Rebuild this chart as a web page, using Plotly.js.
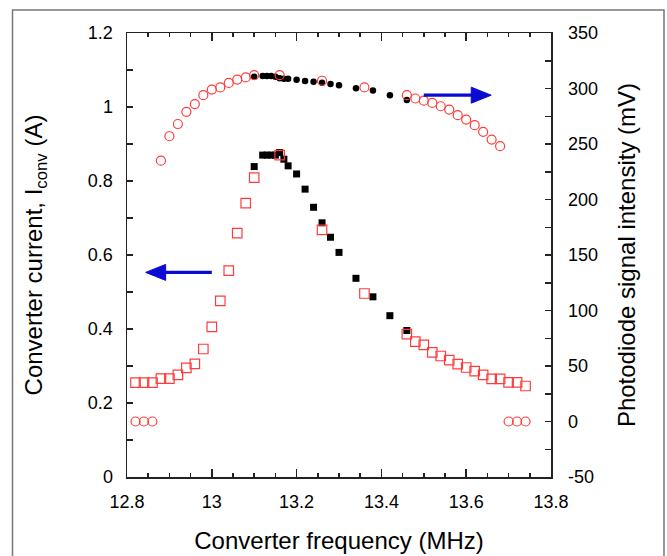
<!DOCTYPE html>
<html>
<head>
<meta charset="utf-8">
<script src="https://cdn.plot.ly/plotly-3.0.1.min.js"></script>
<style>html,body{margin:0;padding:0;background:#fff;}#chart{width:667px;height:556px;}</style>
</head>
<body>
<div id="chart"></div>
<script>
// Converter current (left axis, A) - black filled squares
const freqBlack = [13.10, 13.12, 13.13, 13.14, 13.15, 13.16, 13.17, 13.18, 13.20, 13.22, 13.24, 13.26, 13.28, 13.30, 13.34, 13.38, 13.42, 13.46];
const currentBlack = [0.839, 0.870, 0.870, 0.870, 0.870, 0.877, 0.859, 0.841, 0.819, 0.778, 0.729, 0.687, 0.648, 0.607, 0.537, 0.487, 0.436, 0.396];
// Photodiode signal (right axis, mV) - black filled circles
const signalBlack = [310.6, 311.3, 311.3, 311.3, 310.6, 309.2, 308.8, 308.8, 307.9, 306.8, 306.1, 305.2, 304.1, 302.9, 300.2, 298.2, 293.9, 289.6];

// Red open markers
const freqRed = [12.82, 12.84, 12.86, 12.88, 12.90, 12.92, 12.94, 12.96, 12.98, 13.00, 13.02, 13.04, 13.06, 13.08, 13.10,
                 13.16, 13.26, 13.36,
                 13.46, 13.48, 13.50, 13.52, 13.54, 13.56, 13.58, 13.60, 13.62, 13.64, 13.66, 13.68, 13.70, 13.72, 13.74];
const currentRed = [0.255, 0.255, 0.255, 0.266, 0.266, 0.276, 0.295, 0.306, 0.346, 0.406, 0.476, 0.558, 0.659, 0.740, 0.809,
                    0.870, 0.668, 0.496,
                    0.386, 0.366, 0.357, 0.337, 0.327, 0.316, 0.305, 0.296, 0.286, 0.276, 0.265, 0.265, 0.256, 0.256, 0.246];
const signalRed = [0, 0, 0, 235, 257, 268, 279, 286, 294, 299, 301, 305, 308, 310, 312,
                   312, 307, 301,
                   294, 291, 289, 287, 284, 281, 276, 272, 267, 261, 254, 248, 0, 0, 0];

// Tick labels
const xTickVals = [12.8, 13.0, 13.2, 13.4, 13.6, 13.8];
const xTickText = ['12.8', '13', '13.2', '13.4', '13.6', '13.8'];
const y1TickVals = [0, 0.2, 0.4, 0.6, 0.8, 1.0, 1.2];
const y1TickText = ['0', '0.2', '0.4', '0.6', '0.8', '1', '1.2'];
const y2TickVals = [-50, 0, 50, 100, 150, 200, 250, 300, 350];
const y2TickText = ['-50', '0', '50', '100', '150', '200', '250', '300', '350'];

const RED = '#ff3c3c';
const BLUE = '#0a0ad2';
const FONT = 'Liberation Sans, Arial, Helvetica, sans-serif';
const AXC = '#222';

const traces = [
  {x: freqBlack, y: currentBlack, type: 'scatter', mode: 'markers', xaxis: 'x', yaxis: 'y',
   marker: {symbol: 'square', size: 7, color: '#000'}, showlegend: false, cliponaxis: false},
  {x: freqBlack, y: signalBlack, type: 'scatter', mode: 'markers', xaxis: 'x', yaxis: 'y2',
   marker: {symbol: 'circle', size: 6.5, color: '#000'}, showlegend: false, cliponaxis: false},
  {x: freqRed, y: currentRed, type: 'scatter', mode: 'markers', xaxis: 'x', yaxis: 'y',
   marker: {symbol: 'square-open', size: 9.5, color: RED, line: {width: 1.2, color: RED}}, showlegend: false, cliponaxis: false},
  {x: freqRed, y: signalRed, type: 'scatter', mode: 'markers', xaxis: 'x', yaxis: 'y2',
   marker: {symbol: 'circle-open', size: 9, color: RED, line: {width: 1.2, color: RED}}, showlegend: false, cliponaxis: false}
];

const layout = {
  width: 667, height: 556,
  margin: {l: 127, r: 116, t: 33, b: 79, pad: 0},
  paper_bgcolor: '#fff', plot_bgcolor: '#fff',
  font: {family: FONT, size: 18, color: '#000'},
  showlegend: false,
  xaxis: {
    range: [12.8, 13.8], tickmode: 'array', tickvals: xTickVals, ticktext: xTickText,
    ticks: 'inside', ticklen: 8, tickwidth: 1.5, tickcolor: AXC,
    minor: {dtick: 0.05, tick0: 12.8, ticks: 'inside', ticklen: 4, tickwidth: 1.5, tickcolor: AXC, showgrid: false},
    showline: true, linecolor: AXC, linewidth: 1.5, mirror: 'ticks',
    showgrid: false, zeroline: false,
    ticklabelstandoff: 8,
    tickfont: {family: FONT, size: 18, color: '#000'},
    title: {text: 'Converter frequency (MHz)', font: {family: FONT, size: 24, color: '#000'}, standoff: 21}
  },
  yaxis: {
    range: [0, 1.2], tickmode: 'array', tickvals: y1TickVals, ticktext: y1TickText,
    ticks: 'inside', ticklen: 6, tickwidth: 1.5, tickcolor: AXC,
    minor: {dtick: 0.1, tick0: 0, ticks: 'inside', ticklen: 6, tickwidth: 1.5, tickcolor: AXC, showgrid: false},
    showline: true, linecolor: AXC, linewidth: 1.5,
    showgrid: false, zeroline: false,
    ticklabelstandoff: 9,
    tickfont: {family: FONT, size: 18, color: '#000'},
    title: {text: 'Converter current, I<sub>conv</sub> (A)', font: {family: FONT, size: 24, color: '#000'}, standoff: 38}
  },
  yaxis2: {
    overlaying: 'y', side: 'right', anchor: 'x',
    range: [-50, 350], tickmode: 'array', tickvals: y2TickVals, ticktext: y2TickText,
    ticks: 'inside', ticklen: 6, tickwidth: 1.5, tickcolor: AXC,
    minor: {dtick: 25, tick0: 0, ticks: 'inside', ticklen: 6, tickwidth: 1.5, tickcolor: AXC, showgrid: false},
    showline: true, linecolor: AXC, linewidth: 1.5,
    showgrid: false, zeroline: false,
    ticklabelstandoff: 12,
    tickfont: {family: FONT, size: 18, color: '#000'},
    title: {text: 'Photodiode signal intensity (mV)', font: {family: FONT, size: 24, color: '#000'}, standoff: 21}
  },
  shapes: [
    // outer frame
    {type: 'rect', xref: 'paper', yref: 'paper', x0: -0.27, x1: 1.2665, y0: -0.3, y1: 1.0518,
     line: {color: '#777', width: 1.5}, fillcolor: 'rgba(0,0,0,0)', layer: 'below'},
    // left-pointing arrow (current axis)
    {type: 'line', xref: 'x', yref: 'y', x0: 13.0, x1: 12.87, y0: 0.553, y1: 0.553,
     line: {color: BLUE, width: 3.2}, layer: 'above'},
    {type: 'path', xref: 'x', yref: 'y', xsizemode: 'pixel', ysizemode: 'pixel', xanchor: 12.844, yanchor: 0.553,
     path: 'M0,0 L20,-8 L20,8 Z', fillcolor: BLUE, line: {color: BLUE, width: 1}, layer: 'above'},
    // right-pointing arrow (signal axis)
    {type: 'line', xref: 'x', yref: 'y2', x0: 13.5, x1: 13.635, y0: 294, y1: 294,
     line: {color: BLUE, width: 3.2}, layer: 'above'},
    {type: 'path', xref: 'x', yref: 'y2', xsizemode: 'pixel', ysizemode: 'pixel', xanchor: 13.659, yanchor: 294,
     path: 'M0,0 L-20,-8 L-20,8 Z', fillcolor: BLUE, line: {color: BLUE, width: 1}, layer: 'above'}
  ]
};

Plotly.newPlot('chart', traces, layout, {staticPlot: true, displayModeBar: false});
</script>
</body>
</html>
